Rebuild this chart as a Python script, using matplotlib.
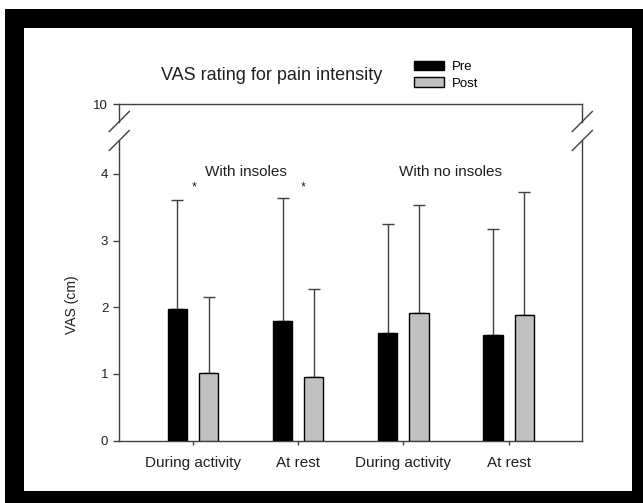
import matplotlib
matplotlib.use("Agg")
import matplotlib.pyplot as plt
from matplotlib.patches import Rectangle, Patch
import numpy as np

plt.rcParams['font.family'] = ['Liberation Sans', 'DejaVu Sans']

categories = ["During activity", "At rest", "During activity", "At rest"]
pre_mean = [1.97, 1.79, 1.61, 1.58]
pre_sd = [1.64, 1.85, 1.64, 1.59]
post_mean = [1.02, 0.96, 1.91, 1.89]
post_sd = [1.13, 1.31, 1.62, 1.84]
star_x = [0.01, 1.05]
groups = ["With insoles", "With no insoles"]
group_x = [0.5, 2.45]

W, H = 643, 503
fig = plt.figure(figsize=(W / 100, H / 100), dpi=100)
fig.patch.set_facecolor('white')

# black frame round the chart
fig.patches.append(Rectangle((5 / W, 0), 638 / W, 494 / H, transform=fig.transFigure,
                             facecolor='black', edgecolor='none', zorder=-10))
fig.patches.append(Rectangle((24 / W, 12 / H), 608 / W, 463 / H, transform=fig.transFigure,
                             facecolor='white', edgecolor='none', zorder=-9))

axc = '#404040'
left, right = 119.3, 582.3
ax = fig.add_axes([left / W, (H - 440.7) / H, (right - left) / W, (440.7 - 140.5) / H])
ax_top = fig.add_axes([left / W, (H - 121.5) / H, (right - left) / W, (121.5 - 104) / H])

x = np.arange(len(categories))
off = 0.149
bw = 0.183
ax.bar(x - off, pre_mean, bw, color='black', edgecolor='black', linewidth=1, zorder=3, label='Pre')
ax.bar(x + off, post_mean, bw, color='#c0c0c0', edgecolor='black', linewidth=1, zorder=3, label='Post')
ax.errorbar(x - off, pre_mean, yerr=[np.zeros(4), pre_sd], fmt='none', ecolor=axc,
            elinewidth=1, capsize=4, capthick=1, zorder=2)
ax.errorbar(x + off, post_mean, yerr=[np.zeros(4), post_sd], fmt='none', ecolor=axc,
            elinewidth=1, capsize=4, capthick=1, zorder=2)

for sx in star_x:
    ax.text(sx, 3.79, '*', ha='center', va='center', fontsize=9, color='#202020')
for g, gx in zip(groups, group_x):
    ax.text(gx, 4.03, g, ha='center', va='center', fontsize=11, color='#202020')

for a in (ax, ax_top):
    a.set_xlim(-0.7, 3.7)
    for s in a.spines.values():
        s.set_color(axc)
        s.set_linewidth(1)
    a.tick_params(axis='y', direction='out', length=4, width=1, color=axc,
                  labelsize=9.5, pad=4, labelcolor='#202020')
    a.patch.set_alpha(0)

ax.set_ylim(0, 4.5)
ax.set_yticks([0, 1, 2, 3, 4])
ax.spines['top'].set_visible(False)
ax.set_xticks(x)
ax.set_xticklabels(categories)
ax.tick_params(axis='x', direction='out', length=3, width=1, color=axc,
               labelsize=11, pad=8, labelcolor='#202020')

ax_top.set_ylim(9.7, 10)
ax_top.set_yticks([10])
ax_top.spines['bottom'].set_visible(False)
ax_top.set_xticks([])

# break marks on both sides
for xc in (left, right):
    for yc in (121.5, 140.5):
        fig.add_artist(plt.Line2D([(xc - 10) / W, (xc + 10) / W],
                                  [(H - yc - 10) / H, (H - yc + 10) / H],
                                  transform=fig.transFigure, color=axc, lw=1))

fig.text(272 / W, 1 - 76 / H, 'VAS rating for pain intensity', ha='center', va='center',
         fontsize=13, color='#202020')
fig.text(72 / W, 1 - 305 / H, 'VAS (cm)', ha='center', va='center', rotation=90,
         fontsize=10, color='#202020')

handles = [Patch(facecolor='black', edgecolor='black', label='Pre'),
           Patch(facecolor='#c0c0c0', edgecolor='black', label='Post')]
fig.legend(handles=handles, loc='upper left', bbox_to_anchor=(414 / W, 1 - 61 / H),
           frameon=False, fontsize=9.5, handlelength=2.3, handleheight=0.72,
           handletextpad=0.55, labelspacing=0.3, borderpad=0, borderaxespad=0)

fig.savefig('out.png', dpi=100)
